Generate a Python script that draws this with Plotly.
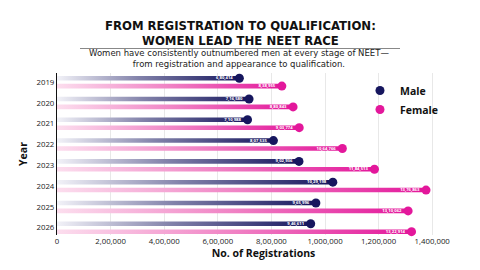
import plotly.graph_objects as go

years = ["2019", "2020", "2021", "2022", "2023", "2024", "2025", "2026"]
male = [680414, 716580, 710988, 807535, 902936, 1029198, 965996, 946611]
female = [838955, 880843, 903774, 1064766, 1184513, 1376863, 1310062, 1322914]
male_lbl = ["6,80,414", "7,16,580", "7,10,988", "8,07,535", "9,02,936", "10,29,198", "9,65,996", "9,46,611"]
female_lbl = ["8,38,955", "8,80,843", "9,03,774", "10,64,766", "11,84,513", "13,76,863", "13,10,062", "13,22,914"]
tick_vals = [0, 200000, 400000, 600000, 800000, 1000000, 1200000, 1400000]
tick_text = ["0", "2,00,000", "4,00,000", "6,00,000", "8,00,000", "1,000,000", "1,200,000", "1,400,000"]
title_text = "FROM REGISTRATION TO QUALIFICATION:<br>WOMEN LEAD THE NEET RACE"
subtitle_text = ("Women have consistently outnumbered men at every stage of NEET\u2014<br>"
                 "from registration and appearance to qualification.")

NAVY = "#16165e"
PINK = "#e3179b"
FONT = "Open Sans"
OFF = 0.19
H = 0.11

fig = go.Figure()
idx = list(range(len(years)))

def bar(v, yc, cs):
    fig.add_trace(go.Scatter(
        x=[0, v, v, 0, 0], y=[yc - H, yc - H, yc + H, yc + H, yc - H],
        mode="lines", line=dict(width=0), fill="toself",
        fillgradient=dict(type="horizontal", colorscale=cs),
        hoverinfo="skip", showlegend=False))

male_cs = [[0, "rgba(242,242,248,1)"], [0.45, "rgba(130,130,170,1)"], [1, NAVY]]
female_cs = [[0, "rgba(252,222,238,1)"], [0.5, "rgba(240,130,196,1)"], [1, PINK]]
for i in idx:
    bar(male[i], i - OFF, male_cs)
    bar(female[i], i + OFF, female_cs)

fig.add_trace(go.Scatter(x=male, y=[i - OFF for i in idx], mode="markers",
                         marker=dict(size=9, color=NAVY), name="Male", cliponaxis=False))
fig.add_trace(go.Scatter(x=female, y=[i + OFF for i in idx], mode="markers",
                         marker=dict(size=9, color=PINK), name="Female", cliponaxis=False))
fig.add_trace(go.Scatter(x=male, y=[i - OFF for i in idx], mode="markers+text",
                         marker=dict(size=9, opacity=0), text=male_lbl,
                         textposition="middle left",
                         textfont=dict(size=4.2, color="white", family=FONT, weight="bold"),
                         showlegend=False, hoverinfo="skip"))
fig.add_trace(go.Scatter(x=female, y=[i + OFF for i in idx], mode="markers+text",
                         marker=dict(size=9, opacity=0), text=female_lbl,
                         textposition="middle left",
                         textfont=dict(size=4.2, color="white", family=FONT, weight="bold"),
                         showlegend=False, hoverinfo="skip"))

T, B, L, R = 73, 35, 57, 10
ph = 270 - T - B
pw = 480 - L - R
def py(pix):
    return (270 - B - pix) / ph
def px(pix):
    return (pix - L) / pw

anns = [
    dict(text=title_text, x=px(240.5), y=py(33.3), xref="paper", yref="paper",
         xanchor="center", yanchor="middle", showarrow=False, align="center",
         font=dict(size=11.7, weight="bold", color="#111", family="DejaVu Sans")),
    dict(text=subtitle_text, x=px(239), y=py(58), xref="paper", yref="paper",
         xanchor="center", yanchor="middle", showarrow=False, align="center",
         font=dict(size=8.5, color="#222", family="DejaVu Sans")),
]

fig.update_layout(
    width=480, height=270,
    margin=dict(l=L, r=R, t=T, b=B),
    paper_bgcolor="white", plot_bgcolor="white",
    font=dict(family=FONT, color="#111"),
    legend=dict(x=px(360), y=py(76), xanchor="left", yanchor="top",
                font=dict(size=10.5, color="#111", weight="bold"),
                bgcolor="rgba(0,0,0,0)", tracegroupgap=0, itemwidth=30),
    xaxis=dict(range=[0, 1541000], tickvals=tick_vals, ticktext=tick_text,
               showgrid=True, gridcolor="#e8e8e8", gridwidth=1, zeroline=False,
               tickfont=dict(size=7.8, color="#222"), ticks="",
               title=dict(text="No. of Registrations", font=dict(size=10.5, weight="bold", color="#111"), standoff=4)),
    yaxis=dict(range=[7.35, -0.44], tickvals=idx, ticktext=years,
               showgrid=False, zeroline=False, showline=True, linecolor="#111", linewidth=1.2,
               tickfont=dict(size=7.8, color="#222"), ticks="",
               title=dict(text="Year", font=dict(size=10.5, weight="bold", color="#111"), standoff=6)),
    annotations=anns,
    shapes=[dict(type="line", xref="paper", yref="paper", x0=px(80), x1=px(400),
                 y0=py(48.5), y1=py(48.5), line=dict(color="#888", width=1))],
)

fig.write_html("out.html")
